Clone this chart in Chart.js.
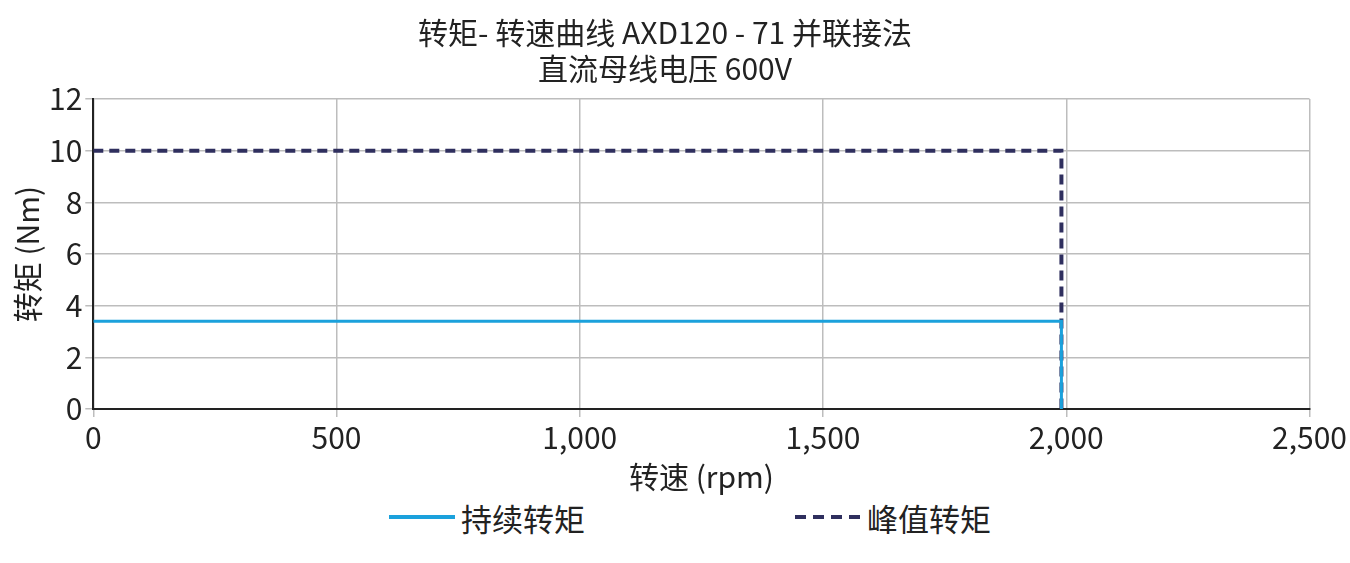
<!DOCTYPE html>
<html>
<head>
<meta charset="utf-8">
<script src="https://cdn.jsdelivr.net/npm/chart.js"></script>
<style>
body{margin:0;background:#fff;font-family:"Noto Sans CJK SC","Noto Sans",sans-serif;}
#wrap{position:relative;width:1350px;height:495px;}
#legend{display:flex;justify-content:center;gap:210px;font-size:31px;color:#222;height:60px;align-items:center;margin-top:-8px;padding-left:30px;}
#legend span{display:flex;align-items:center;gap:6px;}
</style>
</head>
<body>
<div id="wrap"><canvas id="c" width="1350" height="495"></canvas></div>
<div id="legend">
	<span><svg width="66" height="6"><line x1="0" y1="3" x2="66" y2="3" stroke="#1ba1dc" stroke-width="4"/></svg>持续转矩</span>
	<span><svg width="66" height="6"><line x1="0" y1="3" x2="66" y2="3" stroke="#2f2f5e" stroke-width="4" stroke-dasharray="11,7"/></svg>峰值转矩</span>
</div>
<script>
// data
const contSpeed = [0, 1990, 1990];
const contTorque = [3.4, 3.4, 0];
const peakSpeed = [0, 1990, 1990];
const peakTorque = [10, 10, 0];
const titleLines = ['转矩- 转速曲线 AXD120 - 71 并联接法', '直流母线电压 600V'];

const toPts = (xs, ys) => xs.map((x, i) => ({x: x, y: ys[i]}));
const font = {family: '"Noto Sans CJK SC","Noto Sans",sans-serif', size: 30};

new Chart(document.getElementById('c'), {
	type: 'scatter',
	data: {
		datasets: [{
			label: '持续转矩',
			data: toPts(contSpeed, contTorque),
			showLine: true,
			borderColor: '#1ba1dc',
			borderWidth: 3,
			pointRadius: 0
		}, {
			label: '峰值转矩',
			data: toPts(peakSpeed, peakTorque),
			showLine: true,
			borderColor: '#2f2f5e',
			borderWidth: 4,
			borderDash: [10, 6],
			pointRadius: 0
		}]
	},
	options: {
		responsive: false,
		animation: false,
		layout: {padding: {left: 10, right: 30, top: 5}},
		scales: {
			x: {
				min: 0, max: 2500,
				ticks: {stepSize: 500, color: '#222', font: font},
				grid: {color: '#bdbdbd', lineWidth: 1.5},
				border: {color: '#222', width: 2},
				title: {display: true, text: '转速 (rpm)', color: '#222', font: font, padding: 0}
			},
			y: {
				min: 0, max: 12,
				ticks: {stepSize: 2, color: '#222', font: font},
				grid: {color: '#bdbdbd', lineWidth: 1.5},
				border: {color: '#222', width: 2},
				title: {display: true, text: '转矩 (Nm)', color: '#222', font: font, padding: 0}
			}
		},
		plugins: {
			legend: {display: false},
			title: {display: true, text: titleLines, color: '#222', font: Object.assign({}, font, {weight: 'normal'}), padding: {top: 10, bottom: 12}, lineHeight: 1.25}
		}
	}
});
</script>
</body>
</html>
